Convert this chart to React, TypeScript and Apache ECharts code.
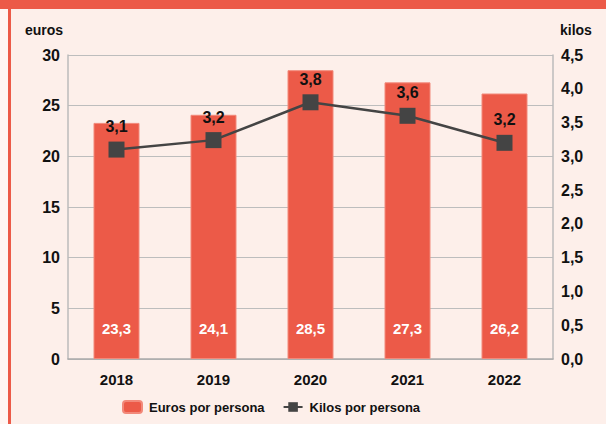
import React, { useEffect, useRef } from "react";
import * as echarts from "echarts";

const years = ["2018", "2019", "2020", "2021", "2022"];
const eurosPorPersona = [23.3, 24.1, 28.5, 27.3, 26.2];
const kilosPorPersona = [3.1, 3.24, 3.8, 3.6, 3.2];

const FONT = "'Liberation Sans', Arial, Helvetica, sans-serif";
const RED = "#ec5a48";
const DARK = "#444444";
const fmt = (v: number) => v.toFixed(1).replace(".", ",");

export default function App() {
  const ref = useRef<HTMLDivElement>(null);
  useEffect(() => {
    if (!ref.current) return;
    const chart = echarts.init(ref.current, undefined, { renderer: "svg" });
    chart.setOption({
      animation: false,
      backgroundColor: "#fff6f3",
      textStyle: { fontFamily: FONT },
      graphic: [
        { type: "rect", z: -10, silent: true, shape: { x: 0, y: 0, width: 606, height: 9 }, style: { fill: RED } },
        { type: "rect", z: -10, silent: true, shape: { x: 8, y: 9, width: 3, height: 415 }, style: { fill: RED } },
        { type: "rect", z: -10, silent: true, shape: { x: 11, y: 9, width: 595, height: 415 }, style: { fill: "#fdefea" } },
        {
          type: "text",
          x: 25,
          y: 23,
          style: { text: "euros", font: `bold 14px ${FONT}`, fill: "#111", align: "left", verticalAlign: "top" },
        },
        {
          type: "text",
          x: 560,
          y: 23,
          style: { text: "kilos", font: `bold 14px ${FONT}`, fill: "#111", align: "left", verticalAlign: "top" },
        },
      ],
      grid: { left: 68, right: 53, top: 55, bottom: 65 },
      legend: {
        top: 400,
        left: 122,
        padding: 0,
        itemWidth: 19,
        itemHeight: 12,
        itemGap: 18,
        textStyle: { fontFamily: FONT, fontWeight: "bold", fontSize: 13, color: "#111", padding: [0, 0, 0, 2] },
        data: ["Euros por persona", "Kilos por persona"],
      },
      xAxis: {
        type: "category",
        data: years,
        axisTick: { show: false },
        axisLine: { lineStyle: { color: "#aaaaaa", width: 1.5 } },
        axisLabel: { margin: 13, fontFamily: FONT, fontWeight: "bold", fontSize: 15, color: "#111" },
      },
      yAxis: [
        {
          type: "value",
          min: 0,
          max: 30,
          interval: 5,
          axisLine: { show: true, lineStyle: { color: "#bbbbbb", width: 1.5 } },
          axisTick: { show: false },
          splitLine: { lineStyle: { color: "#bdbdbd", width: 1 } },
          axisLabel: { margin: 8, padding: [6, 0, 0, 0], fontFamily: FONT, fontWeight: "bold", fontSize: 16, color: "#111" },
        },
        {
          type: "value",
          min: 0,
          max: 4.5,
          interval: 0.5,
          axisLine: { show: true, lineStyle: { color: "#bbbbbb", width: 1.5 } },
          axisTick: { show: false },
          splitLine: { show: false },
          axisLabel: {
            margin: 8,
            padding: [6, 0, 0, 0],
            fontFamily: FONT,
            fontWeight: "bold",
            fontSize: 16,
            color: "#111",
            formatter: (v: number) => fmt(v),
          },
        },
      ],
      series: [
        {
          name: "Euros por persona",
          type: "bar",
          yAxisIndex: 0,
          data: eurosPorPersona,
          barWidth: 46,
          itemStyle: { color: RED, borderColor: "#f2897a", borderWidth: 1 },
          label: {
            show: true,
            position: "insideBottom",
            distance: 23,
            color: "#fff",
            fontFamily: FONT,
            fontWeight: "bold",
            fontSize: 15,
            formatter: (p: any) => fmt(p.value),
          },
        },
        {
          name: "Kilos por persona",
          type: "line",
          yAxisIndex: 1,
          data: kilosPorPersona,
          symbol: "rect",
          symbolSize: 16,
          lineStyle: { color: DARK, width: 2.5 },
          itemStyle: { color: DARK },
          label: {
            show: true,
            position: "top",
            distance: 7,
            color: "#111",
            fontFamily: FONT,
            fontWeight: "bold",
            fontSize: 16,
            formatter: (p: any) => fmt(p.value),
          },
        },
      ],
    });
    return () => chart.dispose();
  }, []);
  return (
    <div
      ref={ref}
      style={{ position: "absolute", left: 0, top: 0, width: 606, height: 424 }}
    />
  );
}
